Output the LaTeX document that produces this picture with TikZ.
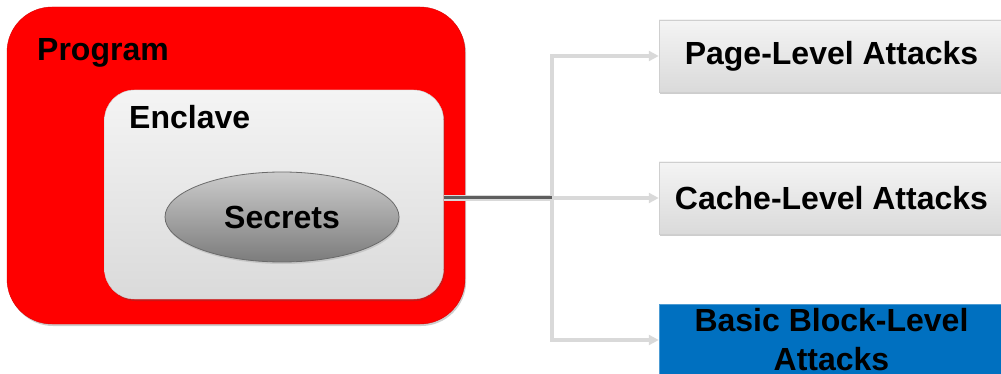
\documentclass[tikz,border=0pt]{standalone}
\usepackage{fontspec}
\setmainfont{Liberation Sans}
\usetikzlibrary{shapes.geometric,shadows,arrows.meta}

\definecolor{progred}{HTML}{FF0000}
\definecolor{boxtop}{HTML}{F4F4F4}
\definecolor{boxbottom}{HTML}{DADADA}
\definecolor{boxedge}{HTML}{CFCFCF}
\definecolor{secrettop}{HTML}{CCCCCC}
\definecolor{secretbottom}{HTML}{7C7C7C}
\definecolor{secretedge}{HTML}{6A6A6A}
\definecolor{blockblue}{HTML}{0070C0}
\definecolor{linkgray}{HTML}{D9D9D9}
\definecolor{linkdark}{HTML}{5E5E5E}

\begin{document}
\begin{tikzpicture}[x=1pt,y=-1pt,
  every node/.style={font=\fontsize{32}{39}\selectfont\bfseries, inner sep=0pt, text=black},
  softshadow/.style={drop shadow={shadow xshift=1.2pt, shadow yshift=-2pt, opacity=0.28, fill=black!70}},
  progbox/.style={rectangle, rounded corners=45pt, fill=progred, draw=progred!85!black, line width=0.4pt,
    minimum width=458pt, minimum height=317pt, softshadow},
  enclbox/.style={rectangle, rounded corners=30pt, top color=boxtop, bottom color=boxbottom,
    draw=boxedge, line width=0.4pt, minimum width=339pt, minimum height=209pt, softshadow},
  secret/.style={ellipse, top color=secrettop, bottom color=secretbottom, draw=secretedge,
    line width=0.8pt, minimum width=234pt, minimum height=90pt,
    drop shadow={shadow xshift=0.8pt, shadow yshift=-2pt, opacity=0.2, fill=black!60}},
  attackbox/.style={rectangle, top color=boxtop, bottom color=boxbottom, draw=boxedge,
    line width=0.5pt, minimum width=345pt, minimum height=72pt, softshadow},
  blockbox/.style={rectangle, fill=blockblue, draw=blockblue!70!white, line width=0.5pt,
    minimum width=345pt, minimum height=72pt, align=center},
  link/.style={draw=linkgray, line width=3.8pt,
    -{Triangle[length=10pt,width=10pt,fill=linkgray]}},
  linkbase/.style={draw=linkgray, line width=5.5pt},
  linkcore/.style={draw=linkdark, line width=3pt}
]
\useasboundingbox (0,0) rectangle (1001,374);
\clip (0,0) rectangle (1001,374);

% program and its enclave
\node[progbox] (prog) at (236,165.5) {};
\node[anchor=base west] (progtitle) at (37,61) {Program};
\node[enclbox] (encl) at (274,194.5) {};
\node[anchor=base west] (encltitle) at (129,129) {Enclave};
\node[secret] (sec) at (282,217) {Secrets};

% attack classes
\node[attackbox] (page) at (831.5,56) {Page-Level Attacks};
\node[attackbox] (cache) at (831.5,198) {Cache-Level Attacks};
\node[blockbox] (bb) at (831.5,340) {Basic Block-Level\\Attacks};

% connectors from the enclave to each attack class
\coordinate (fork) at (552,198);
\draw[link] (fork) |- (page.west);
\draw[link] (fork) -- (cache.west);
\draw[link] (fork) |- (bb.west);
\draw[linkbase] (encl.east |- fork) -- (fork);
\draw[linkcore] (encl.east |- fork) -- (fork);
\end{tikzpicture}
\end{document}
